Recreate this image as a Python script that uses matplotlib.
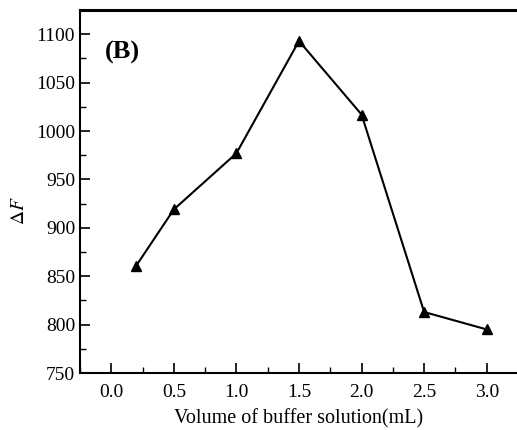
import matplotlib
matplotlib.use("Agg")
import matplotlib.pyplot as plt
from matplotlib.ticker import MultipleLocator

# ---------------- DATA ----------------
volume = [0.2, 0.5, 1.0, 1.5, 2.0, 2.5, 3.0]   # mL
delta_f = [861, 919, 977, 1093, 1017, 813, 795]

# ---------------- STYLE ----------------
plt.rcParams['font.family'] = ['Liberation Serif', 'DejaVu Serif']
plt.rcParams['mathtext.fontset'] = 'stix'

fig = plt.figure(figsize=(5.17, 4.30), dpi=100)
ax = fig.add_axes([80 / 517, 57 / 430, 438 / 517, 363 / 430])

ax.plot(volume, delta_f, color='black', lw=1.5, marker='^', markersize=7)

ax.set_xlim(-0.25, 3.25)
ax.set_ylim(750, 1125)
ax.xaxis.set_major_locator(MultipleLocator(0.5))
ax.xaxis.set_minor_locator(MultipleLocator(0.25))
ax.yaxis.set_major_locator(MultipleLocator(50))
ax.yaxis.set_minor_locator(MultipleLocator(25))
ax.xaxis.set_major_formatter(plt.FormatStrFormatter('%.1f'))

ax.tick_params(which='both', direction='in', top=False, right=False, labelsize=14)
ax.tick_params(which='major', length=7, width=1.2)
ax.tick_params(which='minor', length=4, width=1.0)
ax.tick_params(axis='x', pad=8)

for s in ax.spines.values():
    s.set_linewidth(1.5)
ax.spines['top'].set_linewidth(2.2)
ax.spines['right'].set_visible(False)

ax.set_xlabel("Volume of buffer solution(mL)", fontsize=14.5, labelpad=6)
ax.set_ylabel(r"$\Delta F$", fontsize=14, labelpad=6)
ax.yaxis.set_label_coords(-0.118, 0.446)

ax.text(0.057, 0.884, "(B)", transform=ax.transAxes, fontsize=19,
        fontweight='bold', va='center', ha='left')

fig.savefig("out.png", dpi=100)
